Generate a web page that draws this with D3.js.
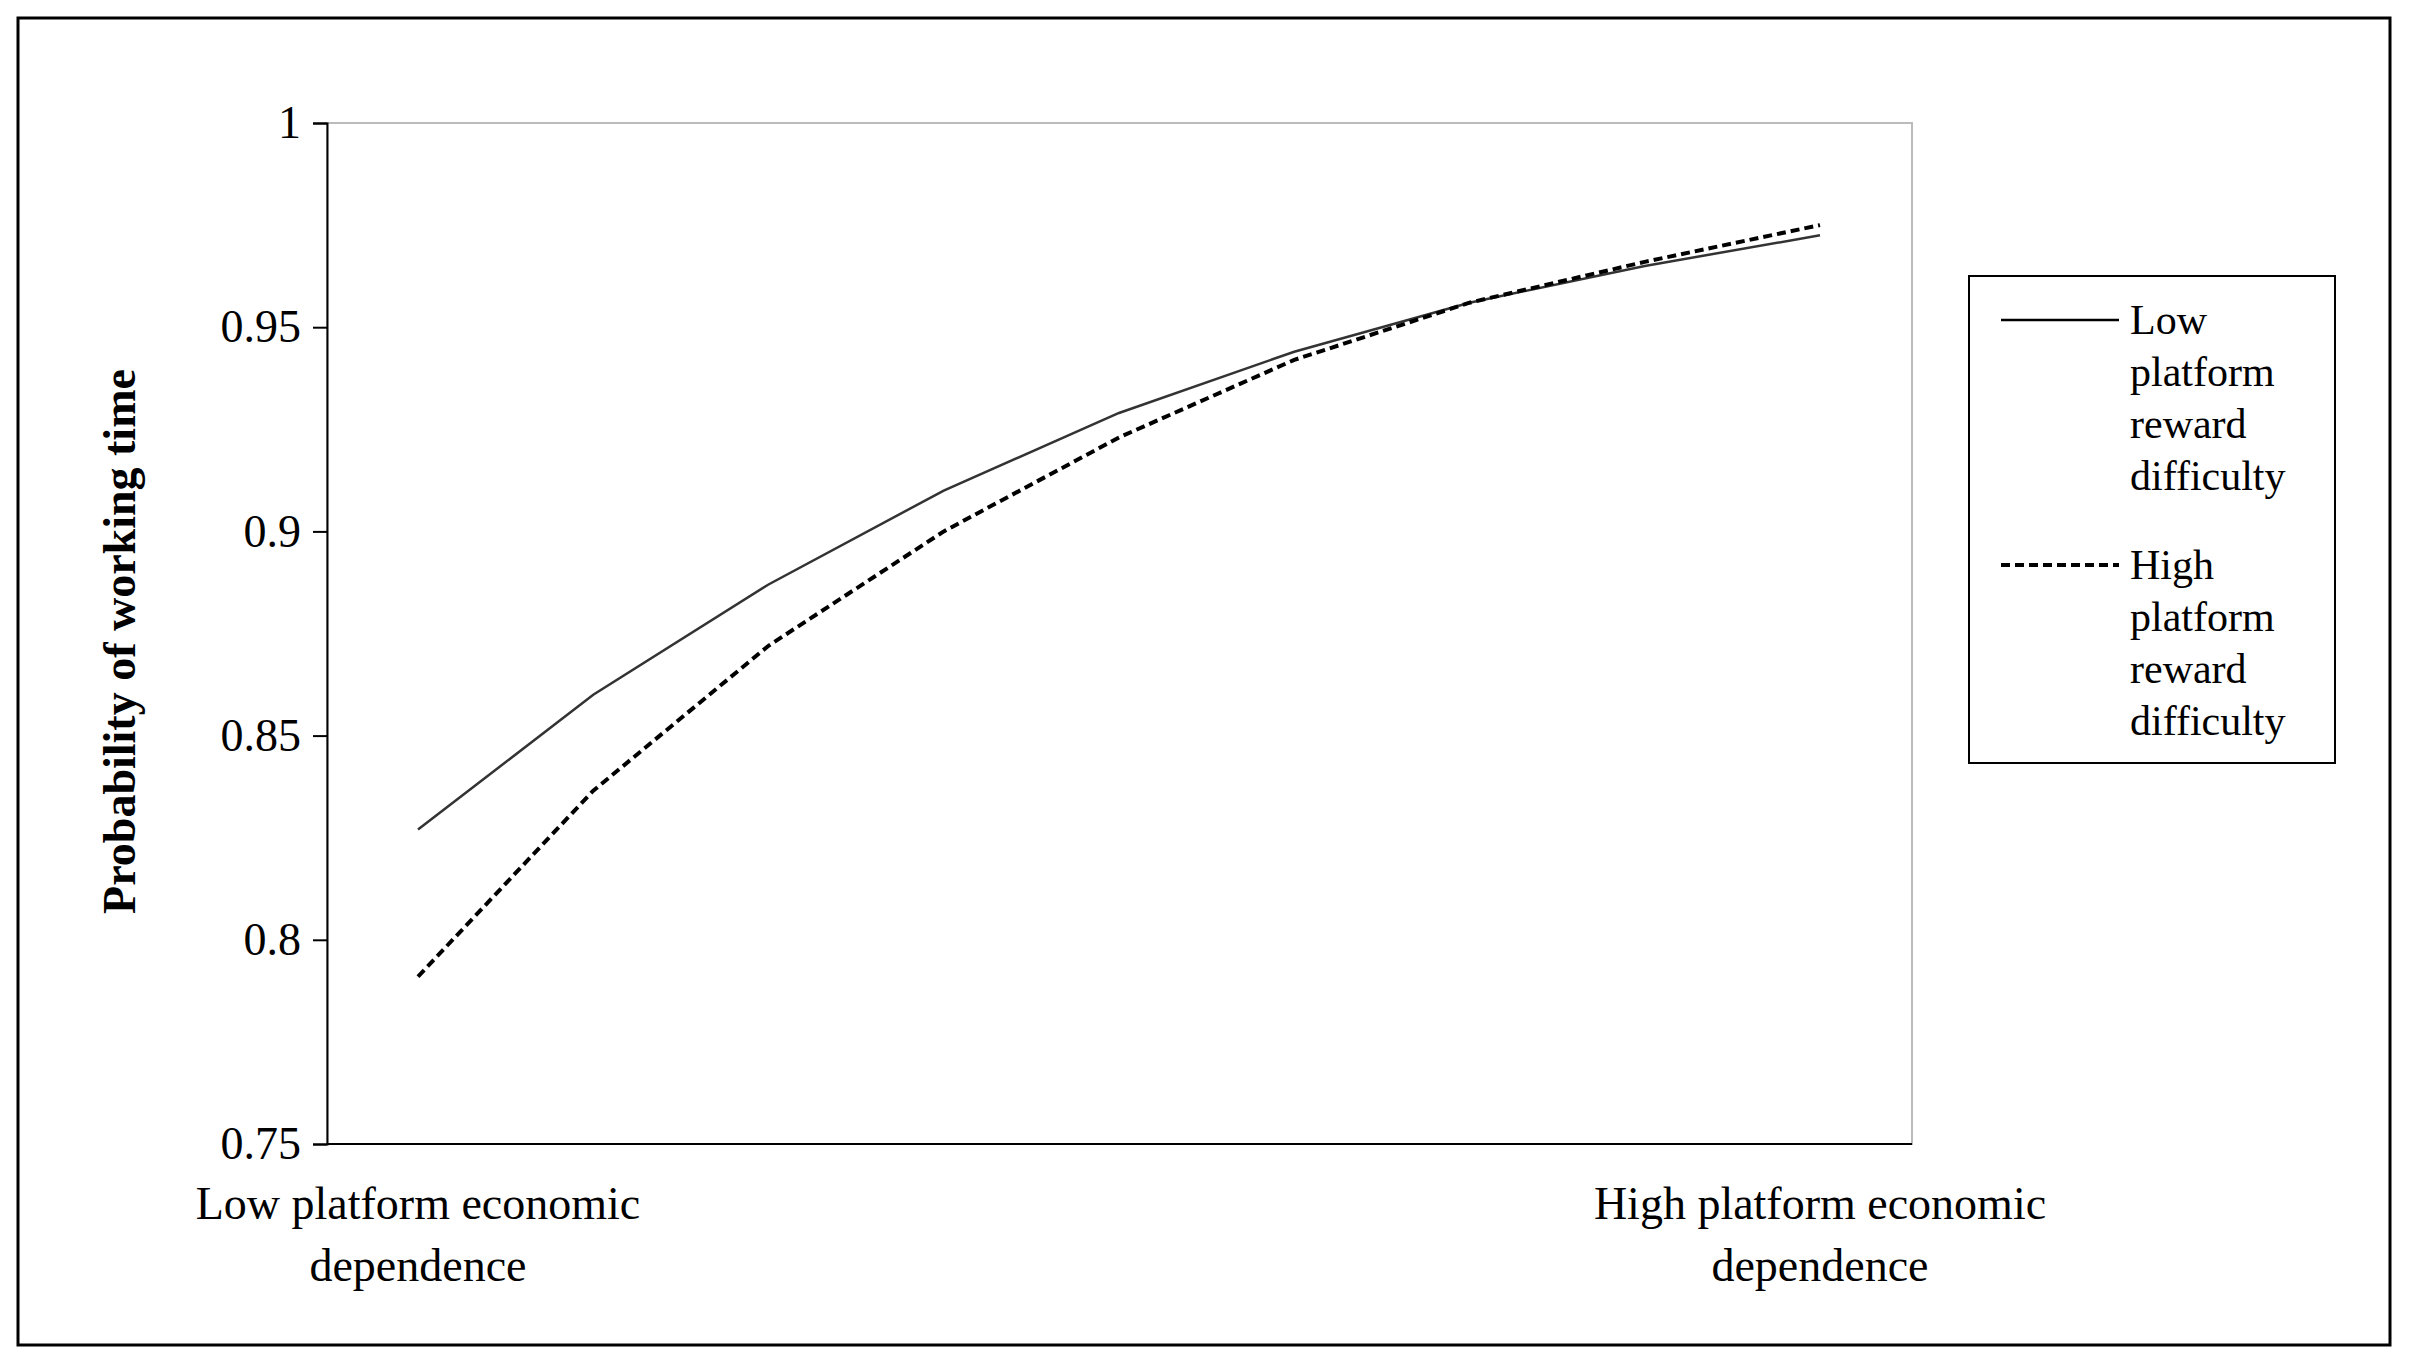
<!DOCTYPE html>
<html>
<head>
<meta charset="UTF-8">
<script src="https://d3js.org/d3.v7.min.js"></script>
<style>
  body { margin: 0; background: #fff; }
  text { font-family: "Liberation Serif", "Times New Roman", serif; fill: #000; }
</style>
</head>
<body>
<svg width="2409" height="1367"></svg>
<script>
// data
const steps = [0, 1, 2, 3, 4, 5, 6, 7, 8];
const lowReward = [0.827, 0.86, 0.887, 0.91, 0.929, 0.944, 0.956, 0.965, 0.9725];
const highReward = [0.791, 0.8365, 0.872, 0.900, 0.923, 0.942, 0.956, 0.966, 0.975];
const yTicks = [0.75, 0.8, 0.85, 0.9, 0.95, 1];
const xLabels = [["Low platform economic", "dependence"], ["High platform economic", "dependence"]];

const svg = d3.select("svg");

// outer frame
svg.append("rect").attr("x", 18).attr("y", 18).attr("width", 2372).attr("height", 1327)
  .attr("fill", "none").attr("stroke", "#000").attr("stroke-width", 3);

const plotL = 327, plotR = 1912, plotT = 123, plotB = 1144;
const x = d3.scaleLinear().domain([0, 8]).range([418, 1820]);
const y = d3.scaleLinear().domain([0.75, 1]).range([plotB, plotT]);

// plot frame
svg.append("rect").attr("x", plotL).attr("y", plotT).attr("width", plotR - plotL).attr("height", plotB - plotT)
  .attr("fill", "none").attr("stroke", "#bbb").attr("stroke-width", 2);

// y axis
const yAxis = svg.append("g").attr("transform", `translate(${plotL},0)`)
  .call(d3.axisLeft(y).tickValues(yTicks).tickFormat(d => d3.format("")(d)).tickSize(14).tickPadding(12));
yAxis.select(".domain").attr("stroke", "#000").attr("stroke-width", 2);
yAxis.selectAll("line").attr("stroke", "#000").attr("stroke-width", 2);
yAxis.selectAll("text").attr("font-size", 46).attr("font-family", "Liberation Serif");

// x axis line
svg.append("line").attr("x1", plotL).attr("x2", plotR).attr("y1", plotB).attr("y2", plotB)
  .attr("stroke", "#000").attr("stroke-width", 2);

[0, 8].forEach((s, i) => {
  const t = svg.append("text").attr("x", x(s)).attr("y", plotB + 75)
    .attr("text-anchor", "middle").attr("font-size", 46);
  xLabels[i].forEach((line, j) => t.append("tspan").attr("x", x(s)).attr("dy", j ? 62 : 0).text(line));
});

svg.append("text").attr("transform", `translate(135,${(plotT + plotB) / 2 + 8}) rotate(-90)`)
  .attr("text-anchor", "middle").attr("font-size", 46).attr("font-weight", "bold")
  .text("Probability of working time");

const line = d3.line().x((d, i) => x(steps[i])).y(d => y(d));
svg.append("path").datum(lowReward).attr("d", line).attr("fill", "none")
  .attr("stroke", "#333").attr("stroke-width", 2.5);
svg.append("path").datum(highReward).attr("d", line).attr("fill", "none")
  .attr("stroke", "#000").attr("stroke-width", 4).attr("stroke-dasharray", "9,5");

// legend
const lg = svg.append("g");
lg.append("rect").attr("x", 1969).attr("y", 276).attr("width", 366).attr("height", 487)
  .attr("fill", "none").attr("stroke", "#000").attr("stroke-width", 2);
const items = [
  {lines: ["Low", "platform", "reward", "difficulty"], y: 320, dash: null, w: 2.5},
  {lines: ["High", "platform", "reward", "difficulty"], y: 565, dash: "9,5", w: 4}
];
items.forEach(it => {
  lg.append("line").attr("x1", 2001).attr("x2", 2119).attr("y1", it.y).attr("y2", it.y)
    .attr("stroke", "#000").attr("stroke-width", it.w).attr("stroke-dasharray", it.dash);
  const t = lg.append("text").attr("x", 2130).attr("y", it.y + 14).attr("font-size", 42);
  it.lines.forEach((l, j) => t.append("tspan").attr("x", 2130).attr("dy", j ? 52 : 0).text(l));
});
</script>
</body>
</html>
